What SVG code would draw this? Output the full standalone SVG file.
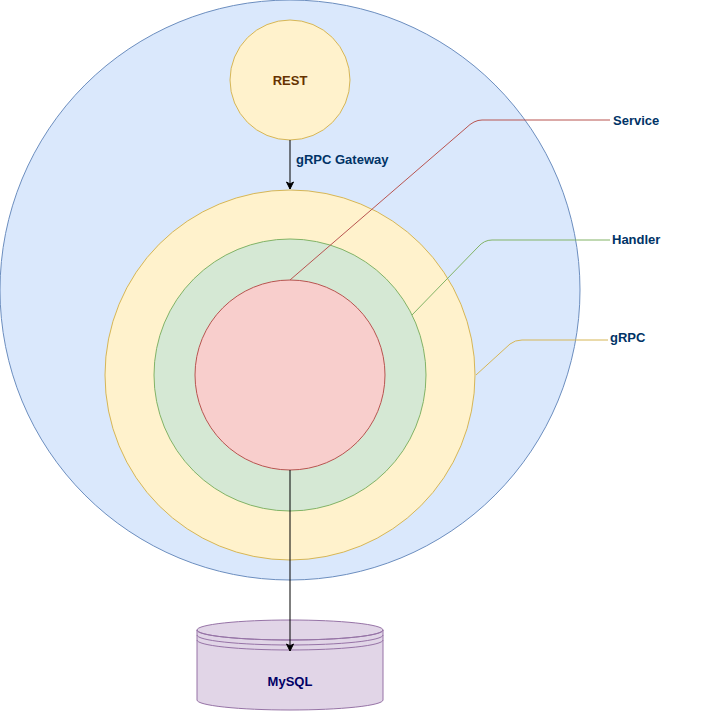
<svg xmlns="http://www.w3.org/2000/svg" width="707" height="711" viewBox="0 0 707 711">
<defs>
<style>
text{font-family:"Liberation Sans",Arial,sans-serif;font-size:13px;font-weight:bold;}
.lbl{fill:#003366;}
.conn{fill:none;stroke:#000;stroke-width:1;}
</style>
<marker id="arr" markerWidth="10" markerHeight="10" refX="8" refY="5" orient="auto" markerUnits="userSpaceOnUse">
<path d="M1,1.5 L8,5 L1,8.5 L3,5 Z" fill="#000" stroke="#000" stroke-width="1"/>
</marker>
</defs>
<rect width="707" height="711" fill="#ffffff"/>
<g id="outer">
<circle cx="290" cy="290" r="290" fill="#dae8fc" stroke="#6c8ebf"/>
</g>
<g id="rest">
<circle cx="290" cy="80" r="60" fill="#fff2cc" stroke="#d6b656"/>
<text x="290" y="85" text-anchor="middle" fill="#663300">REST</text>
</g>
<g id="grpc">
<circle cx="290" cy="375" r="185" fill="#fff2cc" stroke="#d6b656"/>
</g>
<g id="handler">
<circle cx="290" cy="375" r="136" fill="#d5e8d4" stroke="#82b366"/>
</g>
<g id="service">
<circle cx="290" cy="375" r="95" fill="#f8cecc" stroke="#b85450"/>
</g>
<g id="mysql">
<path d="M197,630 L197,700 A93,10 0 0 0 383,700 L383,630" fill="#e1d5e7" stroke="#9673a6"/>
<ellipse cx="290" cy="630" rx="93" ry="10" fill="#e1d5e7" stroke="#9673a6"/>
<path d="M197,630 A93,10 0 0 0 383,630 M197,635 A93,10 0 0 0 383,635 M197,640 A93,10 0 0 0 383,640" fill="none" stroke="#9673a6"/>
<text x="290" y="686" text-anchor="middle" fill="#000066">MySQL</text>
</g>
<g id="connectors">
<line class="conn" x1="290" y1="140" x2="290" y2="189" marker-end="url(#arr)"/>
<line class="conn" x1="290" y1="470" x2="290" y2="651" marker-end="url(#arr)"/>
<path d="M290,280 L466,128 Q474,120 482,120 L610,120" fill="none" stroke="#b85450"/>
<path d="M412,315 L478,247 Q484,240 492,240 L610,240" fill="none" stroke="#82b366"/>
<path d="M476,375 L510,344 Q515,340 522,340 L608,340" fill="none" stroke="#d6b656"/>
</g>
<g id="labels">
<text class="lbl" x="296" y="164">gRPC Gateway</text>
<text class="lbl" x="613" y="125">Service</text>
<text class="lbl" x="612" y="244">Handler</text>
<text class="lbl" x="610" y="342">gRPC</text>
</g>
</svg>
